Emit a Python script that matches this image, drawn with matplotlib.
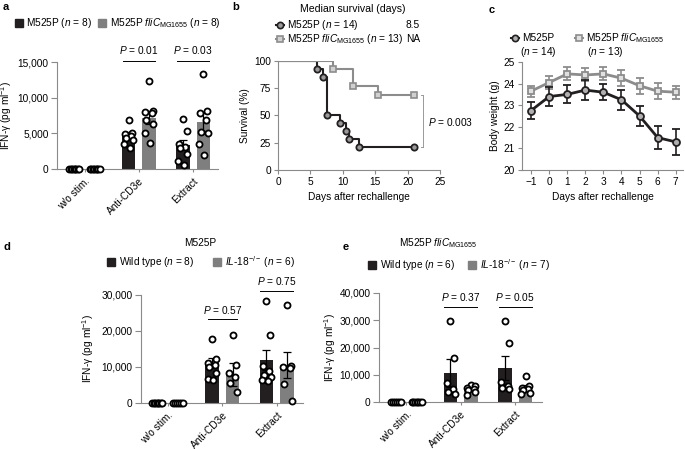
import numpy as np
import matplotlib
matplotlib.use('Agg')
import matplotlib.pyplot as plt
from matplotlib.patches import Rectangle
from matplotlib.lines import Line2D

plt.rcParams['font.family'] = 'Liberation Sans'
plt.rcParams['mathtext.fontset'] = 'custom'
plt.rcParams['mathtext.rm'] = 'Liberation Sans'
plt.rcParams['mathtext.it'] = 'Liberation Sans:italic'
plt.rcParams['font.size'] = 7.3
plt.rcParams['axes.linewidth'] = 0.8

BLACK = '#231f20'
GRAY = '#7f7f7f'
LGRAY = '#8c8c8c'
AXIS = '#8a8a8a'

# ---- data ----
groups = ['w/o stim.', 'Anti-CD3e', 'Extract']

# panel a
a_black_mean = [0, 4800, 3400]
a_black_sem = [0, 450, 600]
a_gray_mean = [0, 7200, 6600]
a_gray_sem = [0, 950, 1250]
a_black_pts = [[0] * 8,
               [6900, 5100, 4900, 4600, 4400, 4100, 3500, 2900],
               [7000, 5300, 3500, 3100, 2900, 2100, 1100, 500]]
a_gray_pts = [[0] * 8,
              [12400, 8100, 8000, 7800, 6900, 6300, 5000, 3700],
              [13300, 8200, 7800, 6900, 5200, 5000, 3500, 1900]]

# panel b (Kaplan-Meier)
b_black_t = [0, 6, 7, 7.5, 9.5, 10.5, 11, 12.5, 21]
b_black_s = [100, 92.9, 85.7, 50, 42.9, 35.7, 28.6, 21.4, 21.4]
b_gray_t = [0, 8.5, 11.5, 15.5, 21]
b_gray_s = [100, 92.3, 76.9, 69.2, 69.2]

# panel c
days = [-1, 0, 1, 2, 3, 4, 5, 6, 7]
c_black = [22.75, 23.4, 23.5, 23.7, 23.6, 23.25, 22.5, 21.5, 21.3]
c_black_err = [0.38, 0.42, 0.42, 0.45, 0.38, 0.45, 0.48, 0.52, 0.62]
c_gray = [23.65, 24.05, 24.45, 24.4, 24.45, 24.25, 23.9, 23.65, 23.6]
c_gray_err = [0.25, 0.3, 0.3, 0.3, 0.3, 0.38, 0.38, 0.38, 0.3]

# panel d
d_black_mean = [0, 11000, 11900]
d_black_sem = [0, 1400, 2800]
d_gray_mean = [0, 7900, 10600]
d_gray_sem = [0, 3200, 3700]
d_black_pts = [[0] * 8,
               [17700, 12300, 11200, 10500, 10000, 8200, 6600, 6300],
               [28200, 18900, 10400, 9000, 7800, 7300, 6300, 6200]]
d_gray_pts = [[0] * 6,
              [18800, 10500, 8400, 7300, 5600, 3000],
              [27300, 10400, 10000, 9700, 5400, 500]]

# panel e
e_black_mean = [0, 10600, 12400]
e_black_sem = [0, 5200, 4400]
e_gray_mean = [0, 5300, 5300]
e_gray_sem = [0, 600, 800]
e_black_pts = [[0] * 6,
               [29800, 16000, 6800, 4600, 3600, 2800],
               [29900, 21800, 7400, 6000, 5000, 4800]]
e_gray_pts = [[0] * 7,
              [6100, 5800, 5300, 4700, 4300, 3800, 2400],
              [9500, 5800, 5000, 4700, 4500, 3200, 3000]]

W, H = 685, 449
fig = plt.figure(figsize=(W / 100, H / 100), dpi=100)


def px(x, y):
    return x / W, 1 - y / H


def add_ax(l, t, r, b):
    ax = fig.add_axes([l / W, 1 - b / H, (r - l) / W, (b - t) / H])
    ax.spines['top'].set_visible(False)
    ax.spines['right'].set_visible(False)
    ax.spines['left'].set_color(AXIS)
    ax.spines['bottom'].set_color(AXIS)
    ax.tick_params(direction='out', length=3, width=0.8, pad=2, color=AXIS)
    return ax


def ftext(x, y, s, **kw):
    fig.text(*px(x, y), s, va='center', **kw)


def square(x, y, color):
    fig.add_artist(Rectangle(px(x, y + 4), 8 / W, 8 / H, transform=fig.transFigure,
                             color=color))


def line_glyph(x, y, color, marker, mfc):
    x0, y0 = px(x, y)
    x1, _ = px(x + 8, y)
    fig.add_artist(Line2D([x0, x1], [y0, y0], transform=fig.transFigure, color=color, lw=1.5))
    fig.add_artist(Line2D([(x0 + x1) / 2], [y0], transform=fig.transFigure, color=color,
                          marker=marker, ms=4.5, mfc=mfc, mec=color, mew=1.2))


def bar_panel(ax, bm, bs, gm, gs, bpts, gpts, ymax, step, xlim, label_x):
    x = np.arange(len(groups))
    off, w = 0.19, 0.25
    ax.bar(x - off, bm, w, color=BLACK, zorder=1)
    ax.bar(x + off, gm, w, color=GRAY, zorder=1)
    for i in range(1, len(groups)):
        ax.errorbar(x[i] - off, bm[i], yerr=bs[i], color='black', lw=0.9, capsize=3, capthick=0.9, zorder=2)
        ax.errorbar(x[i] + off, gm[i], yerr=gs[i], color='black', lw=0.9, capsize=3, capthick=0.9, zorder=2)
    for pts_all, sgn in ((bpts, -1), (gpts, 1)):
        for i, pts in enumerate(pts_all):
            n = len(pts)
            if i == 0:
                jit = np.linspace(-0.09, 0.09, n)
            else:
                jit = np.array([0.0, 0.07, -0.07, 0.05, -0.05, 0.08, -0.08, 0.02][:n])
            ax.scatter(x[i] + sgn * off + jit, pts, s=19, facecolor='white', edgecolor='black',
                       linewidth=1.3, zorder=3, clip_on=False)
    ax.set_xlim(*xlim)
    ax.set_ylim(0, ymax)
    ax.set_yticks(np.arange(0, ymax + 1, step))
    ax.set_yticklabels([f'{v:,}' for v in np.arange(0, ymax + 1, step)])
    ax.tick_params(axis='y', length=4)
    ax.set_xticks(x)
    ax.set_xticklabels(groups, rotation=45, ha='right', va='top', rotation_mode='anchor')
    ax.tick_params(axis='x', length=2, pad=3)
    ax.set_ylabel('IFN-γ (pg ml$^{-1}$)')
    ax.yaxis.set_label_coords(label_x, 0.5)


def pval(ax, xc, y, text, half=0.3):
    ax.plot([xc - half, xc + half], [y, y], color='black', lw=0.7, clip_on=False)
    ax.text(xc, y * 1.04, text, ha='center', va='bottom', clip_on=False)


# ---- panel a ----
ax = add_ax(57, 62, 218, 169)
bar_panel(ax, a_black_mean, a_black_sem, a_gray_mean, a_gray_sem, a_black_pts, a_gray_pts,
          15000, 5000, (-0.51, 2.46), -0.265)
pval(ax, 1, 15200, '$P$ = 0.01')
pval(ax, 2, 15200, '$P$ = 0.03')
square(15, 23, BLACK)
ftext(26, 23, 'M525P ($n$ = 8)')
square(98, 23, GRAY)
ftext(110, 23, r'M525P $\mathit{fliC}_{\mathrm{MG1655}}$ ($n$ = 8)')

# ---- panel b ----
ax = add_ax(278, 61, 440, 170)
ax.step(b_black_t, b_black_s, where='post', color=BLACK, lw=1.5, zorder=2)
ax.plot(b_black_t[1:], b_black_s[1:], 'o', ms=4.5, mfc='#9a9a9a', mec=BLACK, mew=1.3, zorder=3, clip_on=False)
ax.step(b_gray_t, b_gray_s, where='post', color=LGRAY, lw=1.5, zorder=2)
ax.plot(b_gray_t[1:], b_gray_s[1:], 's', ms=4.3, mfc='#d0d0d0', mec=LGRAY, mew=1.2, zorder=3, clip_on=False)
ax.set_xlim(0, 25)
ax.set_ylim(0, 100)
ax.set_xticks([0, 5, 10, 15, 20, 25])
ax.set_yticks([0, 25, 50, 75, 100])
ax.set_xlabel('Days after rechallenge', labelpad=4)
ax.set_ylabel('Survival (%)', labelpad=3)
ax.plot([22.3, 22.3], [b_black_s[-1], b_gray_s[-1]], color='#999999', lw=0.7, clip_on=False)
ax.plot([22.0, 22.3], [b_black_s[-1], b_black_s[-1]], color='#999999', lw=0.7, clip_on=False)
ax.plot([22.0, 22.3], [b_gray_s[-1], b_gray_s[-1]], color='#999999', lw=0.7, clip_on=False)
ftext(428, 122, '$P$ = 0.003')
ftext(353, 9, 'Median survival (days)', ha='center', fontsize=7.6)
line_glyph(276, 25, BLACK, 'o', '#9a9a9a')
ftext(287, 25, 'M525P ($n$ = 14)')
ftext(406, 25, '8.5')
line_glyph(276, 39, LGRAY, 's', '#d0d0d0')
ftext(287, 39, r'M525P $\mathit{fliC}_{\mathrm{MG1655}}$ ($n$ = 13)')
ftext(406, 39, 'NA')

# ---- panel c ----
ax = add_ax(522, 62, 683, 170)
ax.errorbar(days, c_gray, yerr=c_gray_err, color=LGRAY, lw=2, capsize=3, capthick=1.2,
            elinewidth=1.2, marker='s', ms=5, mfc='#e0e0e0', mec=LGRAY, mew=1.3, zorder=2)
ax.errorbar(days, c_black, yerr=c_black_err, color=BLACK, lw=2, capsize=3, capthick=1.2,
            elinewidth=1.2, marker='o', ms=5, mfc='#b0b0b0', mec=BLACK, mew=1.3, zorder=3)
ax.set_xlim(-1.5, 7.4)
ax.set_ylim(20, 25)
ax.set_xticks(days)
ax.set_xticklabels(['\u22121'] + [str(d) for d in days[1:]])
ax.set_yticks([20, 21, 22, 23, 24, 25])
ax.set_xlabel('Days after rechallenge', labelpad=4)
ax.set_ylabel('Body weight (g)', labelpad=3)
line_glyph(511, 38, BLACK, 'o', '#b0b0b0')
ftext(522, 38, 'M525P')
ftext(520, 52, '($n$ = 14)')
line_glyph(575, 38, LGRAY, 's', '#e0e0e0')
ftext(586, 38, r'M525P $\mathit{fliC}_{\mathrm{MG1655}}$')
ftext(587, 52, '($n$ = 13)')

# ---- panel d ----
ax = add_ax(141, 295, 303, 403)
bar_panel(ax, d_black_mean, d_black_sem, d_gray_mean, d_gray_sem, d_black_pts, d_gray_pts,
          30000, 10000, (-0.49, 2.48), -0.278)
pval(ax, 1, 23300, '$P$ = 0.57', half=0.27)
pval(ax, 2, 31000, '$P$ = 0.75', half=0.3)
ftext(200, 243, 'M525P', ha='center')
square(107, 262, BLACK)
ftext(119, 262, 'Wild type ($n$ = 8)')
square(213, 262, GRAY)
ftext(225, 262, r'$\mathit{IL}$-$\mathit{18}^{-/-}$ ($n$ = 6)')

# ---- panel e ----
ax = add_ax(379, 293, 542, 402)
bar_panel(ax, e_black_mean, e_black_sem, e_gray_mean, e_gray_sem, e_black_pts, e_gray_pts,
          40000, 10000, (-0.5, 2.49), -0.25)
pval(ax, 1, 35000, '$P$ = 0.37')
pval(ax, 2, 35000, '$P$ = 0.05')
ftext(438, 243, r'M525P $\mathit{fliC}_{\mathrm{MG1655}}$', ha='center')
square(368, 265, BLACK)
ftext(380, 265, 'Wild type ($n$ = 6)')
square(468, 265, GRAY)
ftext(480, 265, r'$\mathit{IL}$-$\mathit{18}^{-/-}$ ($n$ = 7)')

# panel letters
for lab, x, y in [('a', 3, 7), ('b', 232, 7), ('c', 489, 10), ('d', 3, 247), ('e', 343, 247)]:
    ftext(x, y, lab, fontweight='bold', fontsize=8)

fig.savefig('out.png', dpi=100)
